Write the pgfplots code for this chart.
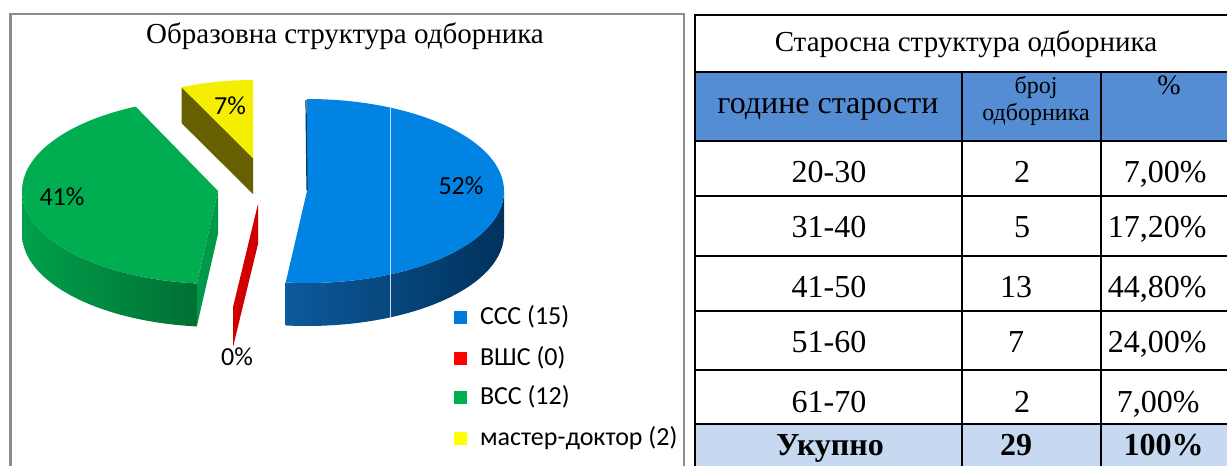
\documentclass[border=0pt]{standalone}
\usepackage{pgfplots}
\pgfplotsset{compat=1.18}
\usepackage{fontspec}
\setmainfont{Liberation Serif}
\newfontfamily\calib{Carlito}
\definecolor{bluetop}{HTML}{0083E3}
\definecolor{bluesideL}{HTML}{0D5A9C}
\definecolor{bluesideM}{HTML}{003A6A}
\definecolor{bluesideR}{HTML}{00325C}
\definecolor{greentop}{HTML}{00AD50}
\definecolor{greensideL}{HTML}{00A04B}
\definecolor{greensideR}{HTML}{006A30}
\definecolor{greenrad}{HTML}{00994A}
\definecolor{redpie}{HTML}{D00000}
\definecolor{yeltop}{HTML}{F5EE00}
\definecolor{yelside}{HTML}{666000}
\definecolor{legblue}{HTML}{0078DC}
\definecolor{legred}{HTML}{FF0000}
\definecolor{leggreen}{HTML}{00B050}
\definecolor{legyellow}{HTML}{FFFF00}
\definecolor{hdr}{HTML}{548DD4}
\definecolor{totrow}{HTML}{C6D9F1}
\definecolor{framegray}{HTML}{8C8C8C}
\definecolor{artline}{HTML}{C8DDF2}
% pie data (number of councillors by education)
\def\vCCC{15}\def\vVSH{0}\def\vVSS{12}\def\vMD{2}
\begin{document}
\begin{tikzpicture}
\pgfmathsetmacro\tot{\vCCC+\vVSH+\vVSS+\vMD}
\pgfmathsetmacro\tA{90}
\pgfmathsetmacro\tB{\tA-360*\vCCC/\tot}
\pgfmathsetmacro\tC{\tB-360*\vVSH/\tot}
\pgfmathsetmacro\tD{\tC-360*\vVSS/\tot}
\pgfmathsetmacro\tE{\tD-360*\vMD/\tot}
\pgfmathsetmacro\tBp{\tB+360}
\pgfmathsetmacro\tBr{\tB+180}
\pgfmathsetmacro\tDr{\tD+180}
\begin{axis}[width=613.5pt,height=233pt,scale only axis,
  xmin=0,xmax=1227,ymin=0,ymax=466,y dir=reverse,hide axis,clip=false]
\coordinate (BL) at (axis cs:0,466);
\coordinate (TR) at (axis cs:1227,0);
% ---------- left panel frame and title
\draw[framegray,line width=1.2pt] (axis cs:10.5,480) -- (axis cs:10.5,14) -- (axis cs:684,14) -- (axis cs:684,480);
\node[anchor=base,font=\fontsize{14.5}{17}\selectfont] at (axis cs:345,43) {Образовна структура одборника};
% ---------- yellow slice
\fill[yelside] (axis cs:253,158) -- ++(\tD:85pt and 39pt) -- ++(0pt,-18pt) -- ++(\tDr:85pt and 39pt) -- cycle;
\fill[yeltop] (axis cs:253,158) -- ++(\tD:85pt and 39pt) arc[start angle=\tD,end angle=\tE,x radius=85pt,y radius=39pt] -- cycle;
% ---------- green slice
\shade[left color=greensideL,right color=greensideR] (axis cs:218,191) ++(180:98pt and 46.5pt) arc[start angle=180,end angle=\tBp,x radius=98pt,y radius=46.5pt] -- ++(0pt,-21.5pt) arc[start angle=\tBp,end angle=180,x radius=98pt,y radius=46.5pt] -- cycle;
\fill[greenrad] (axis cs:218,191) -- ++(\tC:98pt and 46.5pt) -- ++(0pt,-21.5pt) -- ++(\tBr:98pt and 46.5pt) -- cycle;
\fill[greentop] (axis cs:218,191) -- ++(\tC:98pt and 46.5pt) arc[start angle=\tC,end angle=\tD,x radius=98pt,y radius=46.5pt] -- cycle;
% ---------- red slice (0)
\fill[redpie] (axis cs:258,204) -- ++(\tB:115.5pt and 51.8pt) -- ++(0pt,-20pt) -- ++(\tBr:115.5pt and 51.8pt) -- cycle;
% ---------- blue slice
\shade[left color=bluesideL,middle color=bluesideM,right color=bluesideR] (axis cs:307,191) ++(\tB:98.5pt and 46pt) arc[start angle=\tB,end angle=0,x radius=98.5pt,y radius=46pt] -- ++(0pt,-21.5pt) arc[start angle=0,end angle=\tB,x radius=98.5pt,y radius=46pt] -- cycle;
\fill[bluetop] (axis cs:307,191) -- ++(\tA:98.5pt and 46pt) arc[start angle=\tA,end angle=\tB,x radius=98.5pt,y radius=46pt] -- cycle;
\draw[bluesideM,line width=0.6pt] (axis cs:306,100) -- (axis cs:307,190);
\draw[artline,line width=0.5pt] (axis cs:390,108) -- (axis cs:390,318);
% ---------- data labels
\node[font=\calib\fontsize{13}{15}\selectfont] at (axis cs:461,186) {52\%};
\node[font=\calib\fontsize{13}{15}\selectfont] at (axis cs:62,197) {41\%};
\node[font=\calib\fontsize{13}{15}\selectfont] at (axis cs:230,106) {7\%};
\node[font=\calib\fontsize{13}{15}\selectfont] at (axis cs:237,357) {0\%};
% ---------- legend
\fill[legblue] (axis cs:454,310.5) rectangle (axis cs:467,323.5);
\fill[legred] (axis cs:454,351.5) rectangle (axis cs:467,364.5);
\fill[leggreen] (axis cs:454,390.5) rectangle (axis cs:467,403.5);
\fill[legyellow] (axis cs:454,431.5) rectangle (axis cs:467,444.5);
\node[anchor=west,font=\calib\fontsize{13}{15}\selectfont] at (axis cs:473,317) {ССС (15)};
\node[anchor=west,font=\calib\fontsize{13}{15}\selectfont] at (axis cs:473,358) {ВШС (0)};
\node[anchor=west,font=\calib\fontsize{13}{15}\selectfont] at (axis cs:473,397) {ВСС (12)};
\node[anchor=west,font=\calib\fontsize{13}{15}\selectfont] at (axis cs:473,438) {мастер-доктор (2)};
% ---------- table
\fill[hdr] (axis cs:695,72) rectangle (axis cs:1230,141);
\fill[totrow] (axis cs:695,424) rectangle (axis cs:1230,470);
\draw[black,line width=0.75pt] (axis cs:1230,15) -- (axis cs:695,15) -- (axis cs:695,470);
\draw[black,line width=0.75pt] (axis cs:695,72) -- (axis cs:1230,72);
\draw[black,line width=0.75pt] (axis cs:695,141) -- (axis cs:1230,141);
\draw[black,line width=0.75pt] (axis cs:695,196) -- (axis cs:1230,196);
\draw[black,line width=0.75pt] (axis cs:695,256) -- (axis cs:1230,256);
\draw[black,line width=0.75pt] (axis cs:695,311) -- (axis cs:1230,311);
\draw[black,line width=0.75pt] (axis cs:695,370) -- (axis cs:1230,370);
\draw[black,line width=0.75pt] (axis cs:695,424) -- (axis cs:1230,424);
\draw[black,line width=0.75pt] (axis cs:962,72) -- (axis cs:962,470);
\draw[black,line width=0.75pt] (axis cs:1101,72) -- (axis cs:1101,470);
\node[anchor=base,font=\fontsize{14.5}{17}\selectfont] at (axis cs:966,51) {Старосна структура одборника};
\node[anchor=base,font=\fontsize{16}{19}\selectfont] at (axis cs:828,113) {године старости};
\node[anchor=base,font=\fontsize{12}{14}\selectfont] at (axis cs:1036,93) {број};
\node[anchor=base,font=\fontsize{12}{14}\selectfont] at (axis cs:1036,120) {одборника};
\node[anchor=base,font=\fontsize{14}{16}\selectfont] at (axis cs:1169,94) {\%};
% rows
\node[anchor=base,font=\fontsize{16}{19}\selectfont] at (axis cs:829,182) {20-30};
\node[anchor=base,font=\fontsize{16}{19}\selectfont] at (axis cs:829,237) {31-40};
\node[anchor=base,font=\fontsize{16}{19}\selectfont] at (axis cs:829,297) {41-50};
\node[anchor=base,font=\fontsize{16}{19}\selectfont] at (axis cs:829,352) {51-60};
\node[anchor=base,font=\fontsize{16}{19}\selectfont] at (axis cs:829,412) {61-70};
\node[anchor=base,font=\fontsize{16}{19}\selectfont] at (axis cs:1022,182) {2};
\node[anchor=base,font=\fontsize{16}{19}\selectfont] at (axis cs:1022,237) {5};
\node[anchor=base,font=\fontsize{16}{19}\selectfont] at (axis cs:1016,297) {13};
\node[anchor=base,font=\fontsize{16}{19}\selectfont] at (axis cs:1016,352) {7};
\node[anchor=base,font=\fontsize{16}{19}\selectfont] at (axis cs:1022,412) {2};
\node[anchor=base east,font=\fontsize{16}{19}\selectfont,inner sep=0pt] at (axis cs:1207,182) {7,00\%};
\node[anchor=base east,font=\fontsize{16}{19}\selectfont,inner sep=0pt] at (axis cs:1207,237) {17,20\%};
\node[anchor=base east,font=\fontsize{16}{19}\selectfont,inner sep=0pt] at (axis cs:1207,297) {44,80\%};
\node[anchor=base east,font=\fontsize{16}{19}\selectfont,inner sep=0pt] at (axis cs:1207,352) {24,00\%};
\node[anchor=base east,font=\fontsize{16}{19}\selectfont,inner sep=0pt] at (axis cs:1200,412) {7,00\%};
\node[anchor=base,font=\bfseries\fontsize{16}{19}\selectfont] at (axis cs:830,455) {Укупно};
\node[anchor=base,font=\bfseries\fontsize{16}{19}\selectfont] at (axis cs:1016,455) {29};
\node[anchor=base east,font=\bfseries\fontsize{16}{19}\selectfont,inner sep=0pt] at (axis cs:1204,455) {100\%};
\end{axis}
\pgfresetboundingbox
\path[use as bounding box] (BL) rectangle (TR);
\end{tikzpicture}
\end{document}
